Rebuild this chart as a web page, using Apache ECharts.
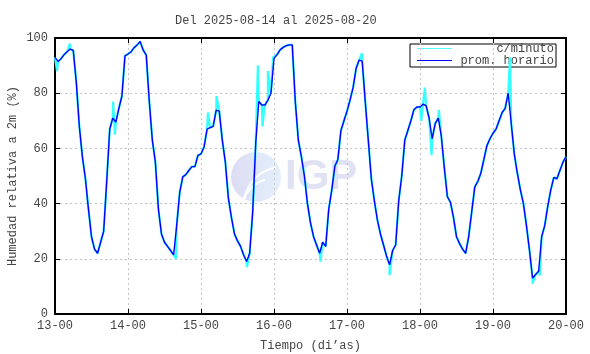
<!DOCTYPE html>
<html>
<head>
<meta charset="utf-8">
<script src="https://cdn.jsdelivr.net/npm/echarts@6/dist/echarts.min.js"></script>
<style>
  html, body { margin: 0; padding: 0; background: #fff; }
  #chart { width: 590px; height: 354px; }
</style>
</head>
<body>
<div id="chart"></div>
<script>
// etiquetas del eje x (una por dia, cada 24 h)
const dias = ['13-00', '14-00', '15-00', '16-00', '17-00', '18-00', '19-00', '20-00']

// promedio horario, desde 13-00 (169 valores)
const horario = [
  93, 91.5, 92.5, 94, 95, 96, 95.5, 84, 68, 57, 49, 38, 28, 23.5, 22, 26, 30, 48, 67, 71, 69.5, 74.5, 79, 93.5,
  94.2, 95, 96.5, 97.5, 98.7, 95.6, 93.8, 77, 63, 55, 38, 29, 26, 24.5, 23, 21.4, 32, 44, 49.7, 50.5, 52, 53.4, 53.4, 57.5,
  58, 60.5, 67, 67.5, 68, 73.9, 73.5, 63, 55, 42, 35, 29, 26.5, 24.5, 21.5, 19, 22, 37, 62, 77, 75.7, 75.7, 77.5, 80,
  92.5, 94, 95.7, 96.6, 97.2, 97.5, 97.5, 77, 63, 57, 50, 40, 33, 28, 25, 22, 26, 24.5, 38, 45, 53.5, 56, 66.5, 70,
  73.5, 77.5, 82, 89, 92, 91.6, 77, 63, 49, 41, 34, 29, 25, 21, 17.8, 23, 25, 41, 50, 63, 66.5, 70, 74, 75,
  75, 76, 75.5, 71, 63.5, 69, 71, 64.5, 53, 42.5, 40.5, 35, 28, 25.5, 23.5, 22, 28, 37, 46, 48, 51, 56, 61, 63.5,
  65.5, 67, 70, 73, 74.5, 80, 69, 58, 51, 45, 40, 32, 23, 13, 14.3, 15.5, 28, 32, 39, 45, 49.5, 49, 52, 55,
  57
]

// picos del registro por minuto [hora, valor]
const picos = [
  [0.66, 88], [4.9, 98], [19.1, 77], [19.7, 65], [39.8, 20], [50.3, 73], [53.1, 79], [63.1, 17],
  [66.7, 90], [68.2, 68], [70, 88], [71.7, 93], [87.3, 19], [100.9, 94.5], [110, 14],
  [120.4, 70], [121.6, 82], [123.8, 57.5], [126.2, 74], [149.6, 93], [157, 11], [159.4, 14]
]

const fuente = 'Liberation Mono, Courier New, monospace'
const gris = '#444'

const serieHoraria = horario.map((v, i) => [i, v])
const serieMinuto = serieHoraria.concat(picos).sort((a, b) => a[0] - b[0])

const chart = echarts.init(document.getElementById('chart'))

const ejeX = (pos) => ({
  type: 'value',
  position: pos,
  min: 0,
  max: 168,
  interval: 24,
  axisLine: { show: true, onZero: false, lineStyle: { color: '#000', width: 2 } },
  axisTick: { show: true, inside: true, length: 5, lineStyle: { color: '#000', width: 1 } },
  axisLabel: {
    show: pos === 'bottom',
    margin: 6,
    color: gris,
    fontFamily: fuente,
    fontSize: 12,
    formatter: (v) => dias[Math.round(v / 24)]
  },
  splitLine: { show: pos === 'bottom', lineStyle: { color: '#c4c4c4', width: 1, type: [2, 3] } }
})

const ejeY = (pos) => ({
  type: 'value',
  position: pos,
  min: 0,
  max: 100,
  interval: 20,
  axisLine: { show: true, onZero: false, lineStyle: { color: '#000', width: 2 } },
  axisTick: { show: true, inside: true, length: 5, lineStyle: { color: '#000', width: 1 } },
  axisLabel: { show: pos === 'left', margin: 7, color: gris, fontFamily: fuente, fontSize: 12 },
  splitLine: { show: pos === 'left', lineStyle: { color: '#c4c4c4', width: 1, type: [2, 3] } }
})

const xInf = ejeX('bottom')
xInf.name = 'Tiempo (di\u2019as)'
xInf.nameLocation = 'middle'
xInf.nameGap = 26
xInf.nameMoveOverlap = false
xInf.nameTextStyle = { color: gris, fontFamily: fuente, fontSize: 12 }

const yIzq = ejeY('left')
yIzq.name = 'Humedad relativa a 2m (%)'
yIzq.nameLocation = 'middle'
yIzq.nameGap = 36
yIzq.nameMoveOverlap = false
yIzq.nameTextStyle = { color: gris, fontFamily: fuente, fontSize: 12 }

chart.setOption({
  animation: false,
  backgroundColor: '#fff',
  title: {
    text: 'Del 2025-08-14 al 2025-08-20',
    left: 170,
    top: 10,
    textStyle: { color: gris, fontFamily: fuente, fontSize: 12, fontWeight: 'normal' }
  },
  grid: { left: 55, right: 24, top: 38, bottom: 40, containLabel: false, outerBoundsMode: 'none' },
  xAxis: [xInf, ejeX('top')],
  yAxis: [yIzq, ejeY('right')],
  graphic: [
    // marca de agua IGP
    {
      type: 'group', z: -1, silent: true,
      children: [
        {
          type: 'circle', shape: { cx: 256, cy: 177, r: 25 },
          style: {
            fill: new echarts.graphic.LinearGradient(0, 0, 1, 0, [
              { offset: 0, color: '#dcdcf3' }, { offset: 1, color: '#e4f0fb' }
            ])
          }
        },
        { type: 'arc', shape: { cx: 282, cy: 205, r: 38, startAngle: Math.PI * 1.05, endAngle: Math.PI * 1.45 }, style: { stroke: '#fff', lineWidth: 2, fill: null } },
        { type: 'arc', shape: { cx: 276, cy: 214, r: 36, startAngle: Math.PI * 1.0, endAngle: Math.PI * 1.4 }, style: { stroke: '#fff', lineWidth: 2, fill: null } },
        {
          type: 'text', x: 285, y: 177,
          style: { text: 'IGP', fill: '#e0e1f3', font: 'bold 42px "Liberation Sans", Arial, sans-serif', verticalAlign: 'middle' }
        }
      ]
    },
    // leyenda
    {
      type: 'group', z: 10,
      children: [
        { type: 'rect', shape: { x: 410, y: 44, width: 146, height: 23 }, style: { fill: '#fff', stroke: '#000', lineWidth: 1 } },
        { type: 'line', shape: { x1: 417, y1: 48.5, x2: 452, y2: 48.5 }, style: { stroke: '#55ffff', lineWidth: 1 } },
        { type: 'line', shape: { x1: 417, y1: 60.5, x2: 452, y2: 60.5 }, style: { stroke: '#0000ff', lineWidth: 1.2 } },
        { type: 'text', x: 554, y: 49, style: { text: 'c/minuto', fill: gris, font: '12px ' + fuente, align: 'right', verticalAlign: 'middle' } },
        { type: 'text', x: 554, y: 61, style: { text: 'prom. horario', fill: gris, font: '12px ' + fuente, align: 'right', verticalAlign: 'middle' } }
      ]
    }
  ],
  series: [
    {
      name: 'c/minuto',
      type: 'line',
      data: serieMinuto,
      showSymbol: false,
      z: 2,
      lineStyle: { color: '#33ffff', width: 2.2 }
    },
    {
      name: 'prom. horario',
      type: 'line',
      data: serieHoraria,
      showSymbol: false,
      z: 3,
      lineStyle: { color: '#0000ff', width: 1.4 }
    }
  ]
})
</script>
</body>
</html>
